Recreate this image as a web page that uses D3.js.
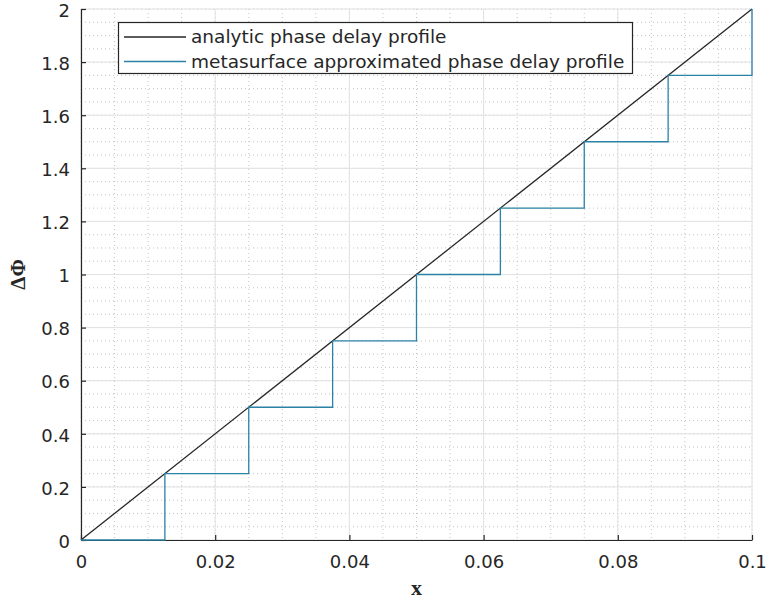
<!DOCTYPE html>
<html><head><meta charset="utf-8">
<script src="https://cdn.jsdelivr.net/npm/d3@7"></script>
<style>body{margin:0;background:#fff}</style>
</head><body>
<svg id="c" width="766" height="599"></svg>
<script>
const analyticX = [0, 0.1];
const analyticY = [0, 2];
const stepX = [0, 0.0125, 0.025, 0.0375, 0.05, 0.0625, 0.075, 0.0875, 0.1];
const stepY = [0, 0.25, 0.5, 0.75, 1, 1.25, 1.5, 1.75, 2];
const xTicks = [0, 0.02, 0.04, 0.06, 0.08, 0.1];
const xTickLabels = ["0", "0.02", "0.04", "0.06", "0.08", "0.1"];
const yTicks = [0, 0.2, 0.4, 0.6, 0.8, 1, 1.2, 1.4, 1.6, 1.8, 2];
const yTickLabels = ["0", "0.2", "0.4", "0.6", "0.8", "1", "1.2", "1.4", "1.6", "1.8", "2"];
const xMinor = d3.range(0, 21).map(i => i * 0.005);
const yMinor = d3.range(0, 41).map(i => i * 0.05);
const seriesNames = ["analytic phase delay profile", "metasurface approximated phase delay profile"];
const colors = ["#262626", "#2a82a6"];

const svg = d3.select("#c");
const L = 81, R = 752, T = 9, B = 540;
const x = d3.scaleLinear().domain([0, 0.1]).range([L, R]);
const y = d3.scaleLinear().domain([0, 2]).range([B, T]);
const font = "'DejaVu Sans', sans-serif";

// minor grid
const g = svg.append("g");
g.selectAll(".xm").data(xMinor).enter().append("line")
  .attr("x1", d => x(d)).attr("x2", d => x(d)).attr("y1", T).attr("y2", B)
  .attr("stroke", "#c4c4c4").attr("stroke-width", 1).attr("stroke-dasharray", "1,3");
g.selectAll(".ym").data(yMinor).enter().append("line")
  .attr("y1", d => y(d)).attr("y2", d => y(d)).attr("x1", L).attr("x2", R)
  .attr("stroke", "#c4c4c4").attr("stroke-width", 1).attr("stroke-dasharray", "1,3");
// major grid
g.selectAll(".xg").data(xTicks).enter().append("line")
  .attr("x1", d => x(d)).attr("x2", d => x(d)).attr("y1", T).attr("y2", B)
  .attr("stroke", "#e2e2e2").attr("stroke-width", 1);
g.selectAll(".yg").data(yTicks).enter().append("line")
  .attr("y1", d => y(d)).attr("y2", d => y(d)).attr("x1", L).attr("x2", R)
  .attr("stroke", "#e2e2e2").attr("stroke-width", 1);

// axes
const xAxis = d3.axisBottom(x).tickValues(xTicks).tickFormat((d, i) => xTickLabels[i]).tickSizeInner(-5).tickSizeOuter(0).tickPadding(15);
const yAxis = d3.axisLeft(y).tickValues(yTicks).tickFormat((d, i) => yTickLabels[i]).tickSizeInner(-5).tickSizeOuter(0).tickPadding(11);
const gx = svg.append("g").attr("transform", `translate(0,${B})`).call(xAxis);
const gy = svg.append("g").attr("transform", `translate(${L},0)`).call(yAxis);
[gx, gy].forEach(a => {
  a.select(".domain").attr("stroke", "#262626").attr("stroke-width", 1.2);
  a.selectAll(".tick line").attr("stroke", "#262626").attr("stroke-width", 1.2);
  a.selectAll(".tick text").attr("font-family", font).attr("font-size", 18).attr("fill", "#262626");
});
gx.selectAll(".tick text").attr("dy", "0.71em");
gy.selectAll(".tick text").attr("dy", "0.4em");

// lines
const line = d3.line().x(d => x(d[0])).y(d => y(d[1]));
svg.append("path").datum(analyticX.map((v, i) => [v, analyticY[i]]))
  .attr("d", line).attr("fill", "none").attr("stroke", colors[0]).attr("stroke-width", 1.3);
const stepData = [[stepX[0], stepY[0]]];
for (let i = 1; i < stepX.length; i++) { stepData.push([stepX[i], stepY[i - 1]]); stepData.push([stepX[i], stepY[i]]); }
svg.append("path").datum(stepData)
  .attr("d", line).attr("fill", "none").attr("stroke", colors[1]).attr("stroke-width", 1.3);

// labels
svg.append("text").attr("x", (L + R) / 2).attr("y", 595).attr("text-anchor", "middle")
  .attr("font-family", "'Liberation Serif', 'DejaVu Serif', serif").attr("font-weight", "bold").attr("font-size", 22).attr("fill", "#262626").text("x");
svg.append("text").attr("transform", `translate(25,${(T + B) / 2}) rotate(-90)`).attr("text-anchor", "middle")
  .attr("font-family", "'Liberation Serif', 'DejaVu Serif', serif").attr("font-weight", "bold").attr("font-size", 21).attr("fill", "#262626").text("ΔΦ");

// legend
const lg = svg.append("g");
lg.append("rect").attr("x", 118.5).attr("y", 22.5).attr("width", 514).attr("height", 51)
  .attr("fill", "#fff").attr("stroke", "#262626").attr("stroke-width", 1.2);
seriesNames.forEach((s, i) => {
  const yy = 37 + i * 24.5;
  lg.append("line").attr("x1", 124).attr("x2", 186).attr("y1", yy).attr("y2", yy)
    .attr("stroke", colors[i]).attr("stroke-width", 1.3);
  lg.append("text").attr("x", 191).attr("y", yy).attr("dy", "0.35em")
    .attr("font-family", font).attr("font-size", 18.5).attr("fill", "#262626").text(s);
});
</script>
</body></html>
